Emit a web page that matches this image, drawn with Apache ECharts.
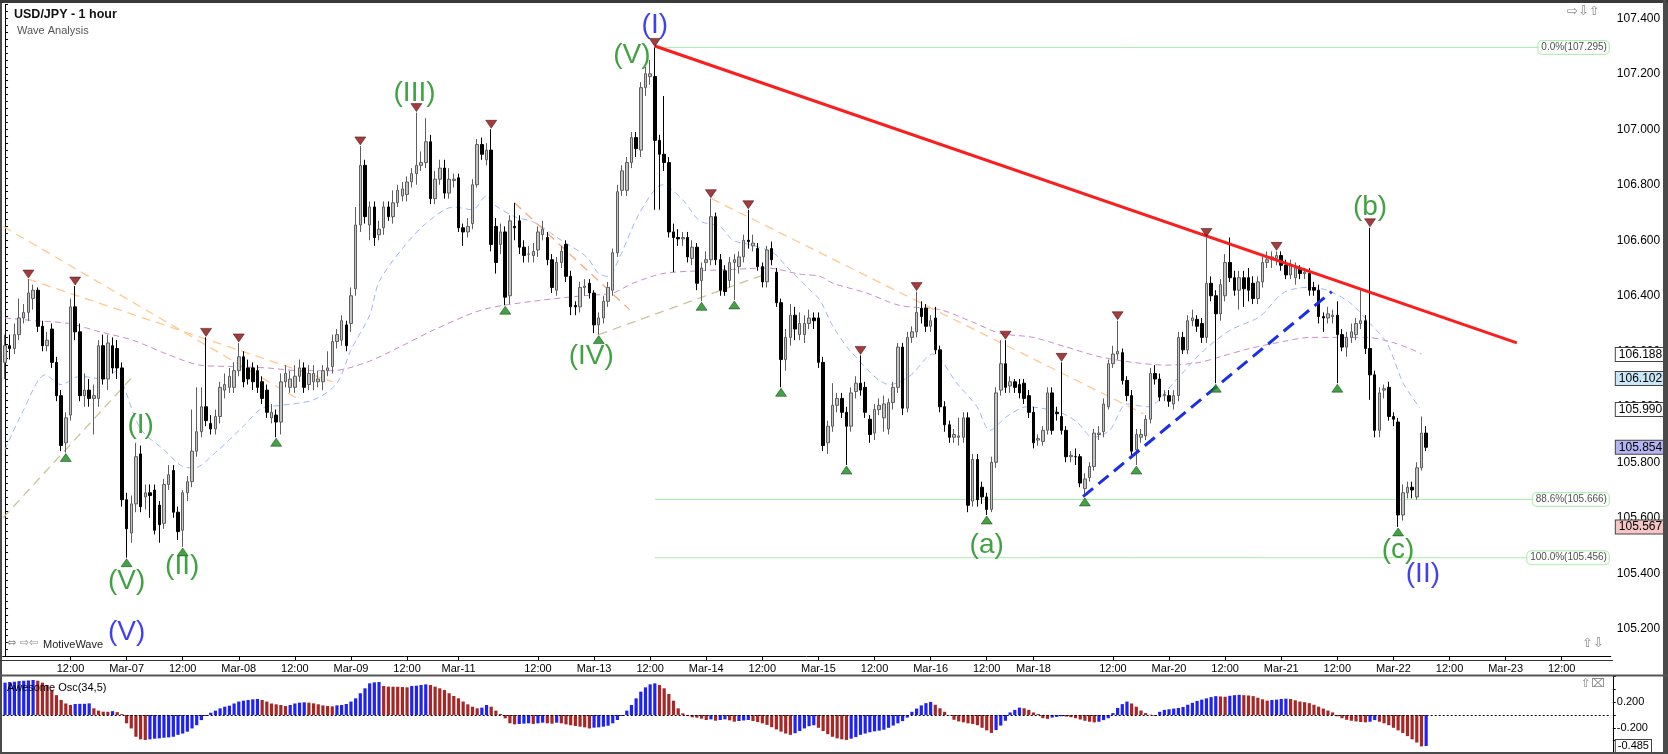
<!DOCTYPE html>
<html><head><meta charset="utf-8">
<script src="https://cdn.jsdelivr.net/npm/echarts@6/dist/echarts.min.js"></script>
<style>html,body{margin:0;padding:0;background:#fff;}#c{width:1668px;height:754px;}</style>
</head><body><div id="c"></div>
<script>
// ---------- DATA ----------
const N_SLOTS = 344; // hourly trading slots; slot 26 = Mar-07 00:00
const tickIdx = [14,26,38,50,62,74,86,97,114,126,138,150,162,174,186,198,210,220,237,249,261,273,285,297,309,321,333];
const tickText = ['12:00','Mar-07','12:00','Mar-08','12:00','Mar-09','12:00','Mar-11','12:00','Mar-13','12:00','Mar-14','12:00','Mar-15','12:00','Mar-16','12:00','Mar-18','12:00','Mar-20','12:00','Mar-21','12:00','Mar-22','12:00','Mar-23','12:00'];
// [open, close, low, high]
const candles = [
[106.16,106.22,106.10,106.26],[106.22,106.21,106.17,106.26],[106.21,106.26,106.19,106.30],[106.26,106.32,106.24,106.39],[106.32,106.34,106.30,106.37],
[106.34,106.41,106.31,106.46],[106.39,106.42,106.35,106.44],[106.42,106.29,106.27,106.43],[106.29,106.22,106.20,106.31],[106.22,106.24,106.20,106.27],
[106.28,106.16,106.14,106.30],[106.16,106.04,106.02,106.18],[106.04,105.86,105.84,106.06],[105.87,105.96,105.835,105.98],[105.97,106.36,105.95,106.39],
[106.36,106.27,106.24,106.435],[106.27,106.04,106.02,106.30],[106.04,106.06,106.00,106.12],[106.06,106.03,106.00,106.10],[106.03,106.04,105.90,106.08],
[106.03,106.22,106.00,106.24],[106.22,106.10,106.08,106.26],[106.10,106.23,106.06,106.26],[106.22,106.14,106.12,106.25],[106.21,106.14,106.10,106.24],
[106.14,105.665,105.64,106.16],[105.665,105.56,105.456,105.69],[105.545,105.65,105.51,105.68],[105.65,105.82,105.62,105.87],[105.83,105.64,105.62,105.86],
[105.675,105.69,105.63,105.72],[105.69,105.68,105.60,105.72],[105.70,105.555,105.54,105.72],[105.645,105.575,105.51,105.66],[105.58,105.72,105.56,105.74],
[105.72,105.755,105.70,105.79],[105.77,105.62,105.60,105.79],[105.62,105.55,105.52,105.64],[105.555,105.69,105.495,105.70],[105.69,105.73,105.66,105.75],
[105.73,105.84,105.71,105.99],[105.84,105.91,105.82,106.07],[105.91,106.00,105.89,106.07],[106.00,105.95,105.93,106.25],[105.94,105.92,105.90,105.97],
[105.92,105.965,105.90,105.99],[105.965,106.07,105.94,106.09],[106.06,106.08,106.03,106.12],[106.07,106.11,106.05,106.14],[106.07,106.13,106.05,106.16],
[106.13,106.18,106.11,106.23],[106.18,106.09,106.07,106.20],[106.14,106.10,106.08,106.17],[106.14,106.09,106.06,106.16],[106.13,106.07,106.05,106.15],
[106.09,106.03,106.01,106.11],[106.06,105.98,105.96,106.08],[105.96,105.98,105.94,106.01],[105.97,105.945,105.89,105.99],[105.945,106.09,105.90,106.12],
[106.09,106.12,106.07,106.15],[106.07,106.10,106.05,106.13],[106.07,106.11,106.05,106.15],[106.11,106.14,106.09,106.17],[106.14,106.07,106.05,106.16],
[106.08,106.12,106.06,106.15],[106.09,106.12,106.06,106.15],[106.09,106.10,106.07,106.13],[106.09,106.13,106.06,106.15],[106.13,106.14,106.11,106.20],
[106.145,106.235,106.12,106.26],[106.235,106.26,106.21,106.28],[106.24,106.31,106.22,106.33],[106.295,106.22,106.20,106.31],[106.30,106.40,106.27,106.43],
[106.425,106.655,106.40,106.72],[106.655,106.87,106.63,106.94],[106.87,106.685,106.66,106.89],[106.655,106.72,106.60,106.74],[106.72,106.61,106.58,106.74],
[106.62,106.64,106.60,106.67],[106.645,106.72,106.62,106.74],[106.72,106.685,106.67,106.74],[106.685,106.735,106.66,106.78],[106.735,106.78,106.72,106.80],
[106.76,106.785,106.74,106.81],[106.765,106.81,106.74,106.83],[106.81,106.84,106.79,106.86],[106.84,106.87,106.80,107.06],[106.87,106.88,106.85,106.92],
[106.88,106.955,106.86,107.04],[106.955,106.75,106.73,106.98],[106.75,106.82,106.73,106.85],[106.82,106.86,106.80,106.89],[106.86,106.77,106.75,106.89],
[106.77,106.82,106.75,106.86],[106.815,106.82,106.79,106.84],[106.825,106.645,106.63,106.84],[106.645,106.63,106.58,106.66],[106.63,106.65,106.61,106.68],
[106.66,106.80,106.64,106.82],[106.80,106.945,106.79,106.965],[106.945,106.91,106.89,106.97],[106.89,106.925,106.87,106.95],[106.925,106.585,106.56,107.00],
[106.65,106.52,106.48,106.68],[106.585,106.63,106.55,106.66],[106.63,106.395,106.366,106.65],[106.40,106.67,106.37,106.69],[106.65,106.645,106.60,106.735],
[106.67,106.575,106.55,106.69],[106.575,106.545,106.52,106.60],[106.55,106.55,106.52,106.58],[106.545,106.56,106.52,106.59],[106.565,106.63,106.54,106.65],
[106.62,106.64,106.60,106.67],[106.61,106.53,106.51,106.63],[106.53,106.43,106.41,106.55],[106.42,106.52,106.40,106.54],[106.52,106.56,106.50,106.58],
[106.585,106.47,106.45,106.60],[106.47,106.36,106.33,106.49],[106.365,106.36,106.33,106.38],[106.36,106.43,106.34,106.45],[106.43,106.435,106.40,106.46],
[106.445,106.41,106.39,106.46],[106.41,106.295,106.265,106.42],[106.295,106.32,106.26,106.34],[106.32,106.38,106.30,106.40],[106.38,106.43,106.36,106.45],
[106.42,106.555,106.40,106.57],[106.555,106.775,106.54,106.80],[106.78,106.85,106.76,106.87],[106.78,106.88,106.76,106.90],[106.88,106.97,106.86,106.99],
[106.97,106.93,106.90,106.99],[106.925,107.15,106.90,107.17],[107.15,107.20,107.12,107.225],[107.19,107.20,107.16,107.25],[107.19,106.96,106.71,107.295],
[106.96,106.91,106.71,106.98],[106.91,106.88,106.85,107.12],[106.88,106.63,106.61,106.90],[106.63,106.61,106.485,106.66],[106.61,106.605,106.58,106.64],
[106.605,106.61,106.58,106.63],[106.61,106.54,106.52,106.63],[106.535,106.575,106.51,106.60],[106.575,106.445,106.42,106.59],[106.455,106.50,106.38,106.52],
[106.52,106.53,106.49,106.56],[106.53,106.685,106.51,106.75],[106.685,106.53,106.51,106.70],[106.53,106.42,106.40,106.55],[106.49,106.415,106.40,106.51],
[106.455,106.52,106.43,106.54],[106.52,106.53,106.385,106.55],[106.505,106.54,106.48,106.56],[106.54,106.60,106.52,106.62],[106.60,106.595,106.57,106.71],
[106.58,106.59,106.56,106.62],[106.57,106.505,106.49,106.59],[106.505,106.45,106.43,106.52],[106.45,106.565,106.43,106.58],[106.57,106.53,106.51,106.595],
[106.485,106.375,106.36,106.50],[106.375,106.17,106.07,106.39],[106.17,106.25,106.13,106.28],[106.25,106.33,106.22,106.37],[106.33,106.28,106.24,106.36],
[106.26,106.30,106.24,106.34],[106.26,106.30,106.23,106.33],[106.30,106.32,106.28,106.35],[106.32,106.31,106.28,106.34],[106.32,106.16,106.14,106.34],
[106.16,105.86,105.84,106.18],[105.87,105.93,105.83,105.95],[105.93,106.005,105.91,106.085],[106.005,106.03,105.98,106.05],[106.03,105.98,105.96,106.05],
[105.98,105.93,105.79,106.00],[105.93,106.05,105.91,106.07],[106.055,106.085,106.03,106.11],[106.085,106.06,106.04,106.185],[106.07,105.98,105.96,106.09],
[105.955,105.90,105.87,105.97],[105.905,105.99,105.88,106.01],[105.99,106.005,105.97,106.03],[105.96,106.01,105.91,106.04],[105.92,106.015,105.90,106.03],
[106.015,106.07,105.99,106.09],[106.07,106.215,106.05,106.23],[106.215,105.995,105.97,106.23],[105.995,106.25,105.98,106.27],[106.25,106.27,106.23,106.29],
[106.27,106.34,106.25,106.415],[106.355,106.325,106.30,106.38],[106.355,106.29,106.27,106.37],[106.29,106.31,106.27,106.33],[106.32,106.205,106.19,106.36],
[106.205,106.00,105.98,106.22],[106.00,105.935,105.91,106.02],[105.935,105.89,105.87,105.95],[105.89,105.90,105.87,105.92],[105.89,105.895,105.86,105.96],
[105.89,105.96,105.87,105.98],[105.96,105.645,105.62,105.98],[105.66,105.81,105.64,105.83],[105.81,105.665,105.64,105.83],[105.71,105.675,105.65,105.73],
[105.675,105.63,105.61,105.69],[105.63,105.80,105.62,105.82],[105.80,106.05,105.78,106.07],[106.06,106.155,106.04,106.24],[106.155,106.07,106.05,106.24],
[106.075,106.09,106.05,106.11],[106.09,106.07,106.05,106.10],[106.08,106.05,106.03,106.10],[106.085,106.03,106.01,106.10],[106.04,105.98,105.96,106.06],
[105.98,105.87,105.85,106.00],[105.88,105.885,105.86,105.90],[105.875,105.915,105.86,105.93],[105.915,106.05,105.90,106.07],[106.05,105.915,105.90,106.07],
[105.98,105.975,105.95,106.00],[105.965,105.915,105.90,106.16],[105.915,105.82,105.80,105.93],[105.82,105.825,105.80,105.84],[105.82,105.82,105.79,105.85],
[105.82,105.725,105.71,105.83],[105.705,105.74,105.675,105.76],[105.745,105.785,105.73,105.80],[105.785,105.905,105.77,105.92],[105.90,105.905,105.88,105.93],
[105.91,106.01,105.89,106.03],[106.00,106.155,105.99,106.17],[106.155,106.19,106.14,106.22],[106.19,106.20,106.17,106.31],[106.195,106.095,106.08,106.21],
[106.095,106.04,106.02,106.11],[106.04,105.84,105.82,106.06],[105.845,105.90,105.79,105.92],[105.89,105.90,105.87,105.92],[105.895,105.955,105.88,105.97],
[105.955,106.12,105.94,106.14],[106.12,106.10,106.08,106.15],[106.10,106.035,106.02,106.12],[106.04,106.045,106.02,106.06],[106.04,106.02,106.00,106.06],
[106.01,106.04,105.99,106.06],[106.04,106.25,106.02,106.27],[106.25,106.205,106.19,106.27],[106.205,106.31,106.19,106.33],[106.31,106.32,106.29,106.35],
[106.315,106.29,106.27,106.33],[106.30,106.25,106.23,106.32],[106.25,106.445,106.23,106.61],[106.445,106.40,106.38,106.47],[106.40,106.335,106.085,106.42],
[106.335,106.44,106.31,106.46],[106.40,106.52,106.38,106.55],[106.52,106.465,106.45,106.61],[106.465,106.42,106.40,106.49],[106.42,106.465,106.35,106.49],
[106.465,106.425,106.36,106.49],[106.465,106.42,106.38,106.50],[106.445,106.39,106.37,106.47],[106.39,106.45,106.37,106.47],[106.45,106.52,106.43,106.54],
[106.52,106.53,106.50,106.56],[106.53,106.54,106.50,106.56],[106.535,106.545,106.51,106.56],[106.545,106.51,106.49,106.56],[106.51,106.475,106.46,106.53],
[106.475,106.51,106.46,106.53],[106.465,106.50,106.44,106.52],[106.50,106.48,106.46,106.51],[106.48,106.485,106.46,106.50],[106.48,106.42,106.40,106.50],
[106.43,106.42,106.40,106.45],[106.42,106.325,106.30,106.44],[106.325,106.32,106.27,106.34],[106.32,106.335,106.30,106.36],[106.325,106.33,106.30,106.35],
[106.33,106.26,106.085,106.38],[106.26,106.215,106.20,106.28],[106.215,106.25,106.18,106.27],[106.25,106.27,106.23,106.30],[106.26,106.30,106.24,106.32],
[106.30,106.31,106.28,106.42],[106.31,106.21,106.19,106.33],[106.21,106.115,106.025,106.645],[106.115,105.915,105.89,106.13],[105.915,106.05,105.89,106.07],
[106.06,106.065,106.03,106.08],[106.07,105.965,105.95,106.09],[105.965,105.955,105.93,105.98],[105.945,105.61,105.567,105.96],[105.61,105.69,105.59,105.72],
[105.69,105.71,105.67,105.73],[105.71,105.70,105.67,105.73],[105.675,105.78,105.665,105.80],[105.78,105.905,105.77,105.965],[105.905,105.854,105.84,105.93]
];
const aoValues = [
0.505,0.515,0.52,0.53,0.535,0.54,0.547,0.536,0.505,0.47,
0.39,0.31,0.234,0.18,0.156,0.172,0.174,0.175,0.182,0.104,
0.068,0.052,0.05,0.06,0.045,0.015,-0.13,-0.21,-0.34,-0.38,
-0.39,-0.38,-0.37,-0.365,-0.355,-0.35,-0.34,-0.31,-0.29,-0.26,
-0.21,-0.16,-0.08,-0.016,0.036,0.068,0.104,0.13,0.146,0.18,
0.21,0.224,0.234,0.245,0.25,0.234,0.21,0.18,0.167,0.156,
0.14,0.156,0.18,0.193,0.198,0.193,0.182,0.167,0.15,0.14,
0.135,0.151,0.156,0.172,0.21,0.26,0.34,0.417,0.495,0.51,
0.515,0.453,0.443,0.442,0.441,0.437,0.432,0.453,0.458,0.469,
0.479,0.469,0.443,0.417,0.39,0.34,0.297,0.26,0.21,0.167,
0.13,0.104,0.115,0.156,0.13,0.068,0.016,-0.052,-0.13,-0.146,
-0.14,-0.135,-0.13,-0.14,-0.13,-0.12,-0.13,-0.135,-0.12,-0.13,
-0.146,-0.16,-0.172,-0.182,-0.193,-0.21,-0.198,-0.193,-0.182,-0.167,
-0.13,-0.078,-0.016,0.068,0.156,0.26,0.365,0.432,0.479,0.495,
0.469,0.417,0.328,0.224,0.104,0.026,-0.016,-0.036,-0.042,-0.057,
-0.078,-0.068,-0.089,-0.078,-0.068,-0.083,-0.104,-0.094,-0.085,-0.078,
-0.094,-0.11,-0.13,-0.155,-0.19,-0.225,-0.26,-0.29,-0.31,-0.285,
-0.25,-0.21,-0.175,-0.16,-0.2,-0.25,-0.3,-0.34,-0.365,-0.38,
-0.39,-0.37,-0.345,-0.31,-0.29,-0.27,-0.255,-0.245,-0.23,-0.2,
-0.165,-0.13,-0.095,-0.04,0.05,0.1,0.15,0.185,0.205,0.16,
0.105,0.05,-0.005,-0.075,-0.1,-0.115,-0.13,-0.14,-0.16,-0.2,
-0.24,-0.28,-0.235,-0.165,-0.09,0.04,0.08,0.115,0.105,0.08,
0.04,0.015,-0.05,-0.06,-0.04,-0.03,-0.02,-0.025,-0.035,-0.05,
-0.07,-0.09,-0.105,-0.115,-0.105,-0.08,-0.05,0.03,0.11,0.17,
0.21,0.18,0.13,0.07,0.03,0.005,-0.015,0.05,0.08,0.09,
0.1,0.11,0.125,0.16,0.19,0.22,0.24,0.26,0.28,0.295,
0.29,0.285,0.3,0.31,0.315,0.31,0.305,0.295,0.27,0.245,
0.225,0.235,0.24,0.25,0.255,0.25,0.23,0.21,0.2,0.185,
0.16,0.13,0.1,0.07,0.04,-0.02,-0.05,-0.075,-0.09,-0.1,
-0.11,-0.115,-0.105,-0.08,-0.105,-0.13,-0.16,-0.2,-0.24,-0.28,
-0.33,-0.38,-0.43,-0.49,-0.485
];
const blueMA = [[0,105.845],[4,105.99],[8.6,106.115],[12,106.08],[16,106.11],[21,106.10],[24,106.13],[25.5,106.07],[29,105.92],[34,105.845],[38,105.785],[40.5,105.78],[45,105.835],[51,105.93],[55,105.995],[59,106.005],[66,106.025],[71,106.085],[74,106.205],[78,106.33],[80,106.45],[85,106.57],[90,106.66],[96,106.72],[100,106.71],[103,106.76],[104.5,106.73],[109,106.685],[113,106.666],[119,106.60],[124.4,106.54],[127,106.48],[129,106.47],[131.5,106.54],[135.8,106.70],[140.7,106.80],[145,106.745],[148.6,106.67],[152.9,106.65],[155.7,106.60],[159.3,106.585],[164.3,106.555],[167.2,106.505],[172.2,106.42],[174.3,106.385],[177.1,106.29],[181.4,106.19],[189.3,106.08],[193.5,106.11],[198.5,106.19],[203.6,106.085],[207.9,106.0],[210.7,105.915],[214.3,105.965],[218.6,106.0],[225.6,105.98],[229.3,105.945],[232.7,105.89],[236.3,105.915],[240,106.01],[244.3,106.0],[250.7,106.10],[255.6,106.19],[262,106.275],[268.4,106.325],[273.4,106.41],[278.5,106.43],[282.8,106.42],[287.7,106.375],[292,106.30],[295.6,106.23],[299.1,106.085],[302.7,105.995]];
const purpleMA = [[0,106.32],[6.5,106.31],[13.6,106.30],[20.3,106.27],[27.3,106.24],[34.6,106.19],[41.7,106.15],[48.7,106.145],[56,106.14],[63.1,106.13],[70.1,106.13],[77.3,106.16],[84.4,106.215],[91.5,106.275],[102.2,106.35],[112.9,106.38],[123.6,106.40],[130,106.41],[134.3,106.445],[140.7,106.48],[148.6,106.49],[155.7,106.495],[163,106.50],[170,106.478],[174.3,106.47],[177.1,106.445],[184.3,106.41],[191.4,106.365],[200,106.35],[207,106.305],[212.8,106.265],[219.9,106.25],[227.1,106.215],[234.2,106.18],[241.3,106.16],[248.5,106.15],[255.6,106.16],[259.9,106.18],[266.3,106.21],[273.4,106.235],[279.2,106.25],[285,106.25],[291.3,106.25],[296.2,106.235],[300.5,106.21],[303,106.19]];
const swingHighIdx = [5,15,43,50,76,88,104,139,151,159,183,195,214,226,238,257,272,292];
const swingLowIdx = [13,26,38,58,107,127,149,156,166,180,210,231,242,259,285,298];
const waveBlue = [[139.0,107.373,'(I)'],[26.0,105.188,'(V)'],[303.3,105.396,'(II)']];
const waveGreen = [[134.1,107.266,'(V)'],[87.6,107.13,'(III)'],[125.4,106.183,'(IV)'],[29.0,105.932,'(I)'],[26.0,105.372,'(V)'],[37.9,105.424,'(II)'],[210.0,105.502,'(a)'],[292.0,106.718,'(b)'],[298.0,105.484,'(c)']];
const fibLevels = [107.295, 105.666, 105.456];
const fibText = ['0.0%(107.295)','88.6%(105.666)','100.0%(105.456)'];
const fibStartIdx = 139;
const fibEndIdx = 343.1;
const priceTags = [106.188, 106.102, 105.990, 105.854, 105.567];
const aoTag = -0.485;
const trendRed = [[139,107.30],[323.4,106.23]];
const trendBlue = [[230.6,105.676],[283.8,106.415]];
const orangeLines = [[[-0.4,106.65],[63,106.025]],[[4.9,106.46],[70.1,106.09]],[[151.1,106.75],[243.5,105.975]]];
const orangeDark = [[109,106.735],[133.6,106.35]];
const tanLines = [[[-0.4,105.60],[27.4,106.11]],[[127,106.26],[163,106.48]]];

// ---------- STYLE ----------
const FONT = "'Liberation Sans', Arial, sans-serif";
const tagFill = ['#ffffff','#cbe6f6','#ffffff','#b4b4f2','#f6c6c6'];
const L = 2.7, W = 1608.1;
const categories = Array.from({length: N_SLOTS}, (_, i) => 'h' + i);
const tickSet = new Set(tickIdx);
const tickMap = {}; tickIdx.forEach((k, j) => tickMap[k] = tickText[j]);
const tickFn = (idx) => tickSet.has(idx);
const HIDDEN_LINE = {color: 'rgba(0,0,0,0)', width: 1, type: 'solid'};

const lineSeries = (data, color, width, type, z) => ({
  type: 'line', xAxisIndex: 1, yAxisIndex: 0, data, symbol: 'none', silent: true,
  lineStyle: {color, width, type}, z: z || 3, animation: false
});

const series = [];
series.push(Object.assign(lineSeries(purpleMA, '#c98ec9', 1, [6, 4], 1), {smooth: 0.3}));
series.push(Object.assign(lineSeries(blueMA, '#9fb8f4', 1, [6, 4], 1), {smooth: 0.3}));
orangeLines.forEach(d => series.push(lineSeries(d, '#ffc890', 1.3, [9, 6], 1)));
series.push(lineSeries(orangeDark, '#f5a77a', 1.3, [9, 6], 1));
tanLines.forEach(d => series.push(lineSeries(d, '#cbc391', 1.3, [9, 6], 1)));
fibLevels.forEach(p => series.push(lineSeries([[fibStartIdx, p], [fibEndIdx, p]], '#a6eea6', 1, 'solid', 1)));

series.push({
  type: 'candlestick', xAxisIndex: 0, yAxisIndex: 0, data: candles, barWidth: 3, z: 2,
  itemStyle: {color: '#c2c2c2', color0: '#000000', borderColor: '#5e5e5e', borderColor0: '#000000', borderWidth: 1},
  markLine: {
    symbol: 'none', silent: true, animation: false, precision: 3,
    data: priceTags.map((v, k) => ({
      yAxis: v, lineStyle: HIDDEN_LINE,
      label: {show: true, position: 'end', distance: 5, formatter: v.toFixed(3), fontFamily: FONT, fontSize: 12,
        color: '#000', backgroundColor: tagFill[k], borderColor: '#444', borderWidth: 1, padding: [1, 2, 0, 3]}
    }))
  }
});

series.push(lineSeries(trendRed, '#fa1e1e', 3, 'solid', 4));
series.push(lineSeries(trendBlue, '#1b2fe6', 3, [13, 7], 4));

series.push({
  type: 'scatter', xAxisIndex: 1, yAxisIndex: 0, z: 5, silent: true, animation: false,
  data: swingHighIdx.map(i => [i, candles[i][3]]),
  symbol: 'triangle', symbolRotate: 180, symbolSize: [11, 8], symbolOffset: [0, -5],
  itemStyle: {color: '#8c0c0c', borderColor: '#3a0000', borderWidth: 0.6}
});
series.push({
  type: 'scatter', xAxisIndex: 1, yAxisIndex: 0, z: 5, silent: true, animation: false,
  data: swingLowIdx.map(i => [i, candles[i][2]]),
  symbol: 'triangle', symbolSize: [11, 8], symbolOffset: [0, 5],
  itemStyle: {color: '#178a17', borderColor: '#003a00', borderWidth: 0.6}
});

const waveSeries = (data, color) => ({
  type: 'scatter', xAxisIndex: 1, yAxisIndex: 0, z: 6, silent: true, animation: false,
  data, symbolSize: 0.1, itemStyle: {color: 'transparent'},
  label: {show: true, position: 'inside', formatter: p => p.data[2], color, fontSize: 28, fontFamily: FONT}
});
series.push(waveSeries(waveBlue, '#1010f0'));
series.push(waveSeries(waveGreen, '#138a13'));

series.push({
  type: 'scatter', xAxisIndex: 1, yAxisIndex: 0, z: 6, silent: true, animation: false, clip: false,
  data: fibLevels.map((p, k) => [fibEndIdx, p, fibText[k]]), symbolSize: 1, itemStyle: {color: 'transparent'},
  label: {show: true, position: 'inside', align: 'right', verticalAlign: 'middle', formatter: p => p.data[2], color: '#222', fontSize: 10, fontFamily: FONT,
    backgroundColor: '#fff', borderColor: '#9fe89f', borderWidth: 1, borderRadius: 4, padding: [2, 2, 1, 3]}
});

series.push({
  type: 'bar', xAxisIndex: 2, yAxisIndex: 1, barWidth: 3.2, animation: false, silent: true,
  data: aoValues.map((v, i) => ({value: v, itemStyle: {color: (i === 0 || v > aoValues[i - 1]) ? '#1f22f5' : '#a72626'}})),
  markLine: {
    symbol: 'none', silent: true, animation: false, precision: 3,
    data: [
      {yAxis: 0, lineStyle: {color: '#000', width: 1, type: [2, 2]}, label: {show: false}},
      {yAxis: aoTag, lineStyle: HIDDEN_LINE, label: {show: true, position: 'end', distance: 5, formatter: aoTag.toFixed(3),
        fontFamily: FONT, fontSize: 11, color: '#000', backgroundColor: '#fff', borderColor: '#444', borderWidth: 1, padding: [1, 2, 0, 2]}}
    ]
  }
});

const option = {
  backgroundColor: '#ffffff',
  animation: false,
  title: [
    {text: 'USD/JPY - 1 hour', left: 9, top: 3, textStyle: {fontSize: 12.5, fontWeight: 'bold', fontFamily: FONT, color: '#111'}},
    {text: 'Wave Analysis', left: 12, top: 20, textStyle: {fontSize: 11, fontWeight: 'normal', fontFamily: FONT, color: '#555'}}
  ],
  grid: [
    {left: L, top: 4.4, width: W, height: 652.1, containLabel: false, outerBoundsMode: 'none'},
    {left: L, top: 676.6, width: W, height: 76.8, containLabel: false, outerBoundsMode: 'none'}
  ],
  xAxis: [
    {type: 'category', gridIndex: 0, data: categories, boundaryGap: true,
      axisLine: {show: true, lineStyle: {color: '#000', width: 1}},
      axisTick: {show: true, interval: tickFn, alignWithLabel: true, length: 4, lineStyle: {color: '#000'}},
      axisLabel: {show: true, interval: tickFn, formatter: (v, idx) => tickMap[idx] || '', color: '#000', fontSize: 11, fontFamily: FONT, margin: 7},
      splitLine: {show: false}},
    {type: 'value', gridIndex: 0, min: -0.5, max: N_SLOTS - 0.5, show: false},
    {type: 'category', gridIndex: 1, data: categories, boundaryGap: true, show: false}
  ],
  yAxis: [
    {type: 'value', gridIndex: 0, position: 'right', offset: 2, min: 105.1, max: 107.45, interval: 0.025,
      axisLine: {show: true, lineStyle: {color: '#000'}},
      axisTick: {show: true, length: 3, lineStyle: {color: '#000'}},
      axisLabel: {formatter: v => (Math.abs(v * 5 - Math.round(v * 5)) < 1e-6) ? v.toFixed(3) : '', color: '#000', fontSize: 12, fontFamily: FONT, margin: 4},
      splitLine: {show: false}},
    {type: 'value', gridIndex: 1, position: 'right', offset: 2, min: -0.6, max: 0.6, interval: 0.2,
      axisLine: {show: true, lineStyle: {color: '#000'}},
      axisTick: {show: true, length: 3, lineStyle: {color: '#000'}},
      axisLabel: {formatter: v => (Math.abs(Math.abs(v) - 0.2) < 1e-6) ? v.toFixed(3) : '', color: '#000', fontSize: 11, fontFamily: FONT, margin: 4},
      splitLine: {show: false}}
  ],
  graphic: [
    {type: 'rect', shape: {x: 1, y: 1, width: 1666, height: 752}, style: {fill: 'none', stroke: '#4a4a4a', lineWidth: 2}, z: 100},
    {type: 'line', shape: {x1: 0, y1: 1.5, x2: 1668, y2: 1.5}, style: {stroke: '#3a3a3a', lineWidth: 3}, z: 100},
    {type: 'line', shape: {x1: 1664.5, y1: 0, x2: 1664.5, y2: 754}, style: {stroke: '#4a4a4a', lineWidth: 3}, z: 100},
    {type: 'line', shape: {x1: 0, y1: 660.5, x2: 1613, y2: 660.5}, style: {stroke: '#333', lineWidth: 1}, z: 100},
    {type: 'line', shape: {x1: 0, y1: 675.5, x2: 1668, y2: 675.5}, style: {stroke: '#555', lineWidth: 2}, z: 100},
    {type: 'text', left: 7, top: 638, style: {text: '⇔ ⇨⇦', fill: '#8a8a8a', font: "11px 'DejaVu Sans'"}, z: 100},
    {type: 'text', left: 43, top: 639, style: {text: 'MotiveWave', fill: '#222', font: "11px " + FONT}, z: 100},
    {type: 'text', left: 1567, top: 5, style: {text: '⇨⇩⇧', fill: '#8a8a8a', font: "13px 'DejaVu Sans'"}, z: 100},
    {type: 'text', left: 1582, top: 637, style: {text: '⇧⇩', fill: '#8a8a8a', font: "13px 'DejaVu Sans'"}, z: 100},
    {type: 'text', left: 1581, top: 678, style: {text: '⇧⌧', fill: '#8a8a8a', font: "12px 'DejaVu Sans'"}, z: 100},
    {type: 'text', left: 7, top: 682, style: {text: 'Awesome Osc(34,5)', fill: '#000', font: "11px " + FONT}, z: 100}
  ],
  series
};

const chart = echarts.init(document.getElementById('c'), null, {renderer: 'canvas'});
chart.setOption(option);
</script>
</body></html>
